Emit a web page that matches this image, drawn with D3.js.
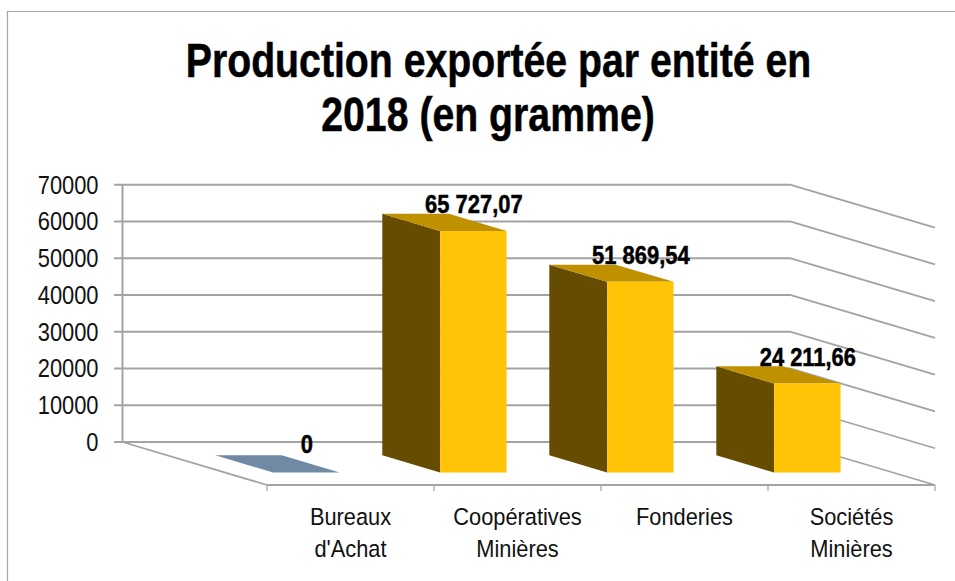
<!DOCTYPE html>
<html><head><meta charset="utf-8">
<script src="https://cdn.jsdelivr.net/npm/d3@7"></script>
<style>html,body{margin:0;padding:0;background:#fff}svg{display:block}text{font-family:"Liberation Sans",Arial,sans-serif}</style>
</head><body><svg id="c" width="955" height="581"></svg>
<script>
const categories=["Bureaux d'Achat","Coopératives Minières","Fonderies","Sociétés Minières"];
const categoryLines=[["Bureaux","d'Achat"],["Coopératives","Minières"],["Fonderies"],["Sociétés","Minières"]];
const values=[0,65727.07,51869.54,24211.66];
const valueLabels=["0","65 727,07","51 869,54","24 211,66"];
const yTicks=[0,10000,20000,30000,40000,50000,60000,70000];
const titleLines=["Production exportée par entité en","2018 (en gramme)"];
const titleCenters=[498.5,488];

const svg=d3.select("#c");
const grid="#a3a3a3";
const y=d3.scaleLinear().domain([0,70000]).range([442,184.7]);
const x=d3.scaleBand().domain(categories).range([267,935]);
const depthX=d3.scaleLinear().domain([0,1]).range([0,-144.5]);
const depthY=d3.scaleLinear().domain([0,1]).range([43,0]);
const h=v=>y(0)-y(v);
const P=(fx,d,v)=>[fx+depthX(d),y(0)+depthY(d)-h(v)];
const line=d3.line();
// horizontally condensed text, as in the reference
function label(s,px,py,size,sx,bold,fill){
  const t=svg.append("text").attr("transform",`translate(${px},${py}) scale(${sx},1)`)
    .attr("text-anchor","middle").attr("font-size",size)
    .attr("font-weight",bold?"bold":"normal").attr("fill",fill).text(s);
  if(bold) t.attr("stroke",fill).attr("stroke-width",0.5);
  return t;
}

svg.append("path").attr("d","M7.5,581V11.5H955").attr("fill","none").attr("stroke","#a6a6a6").attr("stroke-width",1.2);

yTicks.forEach(t=>{
  svg.append("path").attr("fill","none").attr("stroke",grid).attr("stroke-width",2)
   .attr("d",line([[114,y(t)],[790,y(t)]]));
  svg.append("path").attr("fill","none").attr("stroke",grid).attr("stroke-width",1.8)
   .attr("d",line([[790,y(t)],[935,y(t)+43]]));
});
svg.append("path").attr("stroke",grid).attr("stroke-width",2).attr("d",line([[122.5,y(70000)],[122.5,y(0)]]));
svg.append("path").attr("stroke",grid).attr("stroke-width",1.8).attr("d",line([[122.5,y(0)],[267,y(0)+43]]));
svg.append("path").attr("stroke",grid).attr("stroke-width",2).attr("d",line([[267,y(0)+43],[935,y(0)+43]]));
[...categories.map(c=>x(c)),935].forEach(px=>{
  svg.append("path").attr("stroke",grid).attr("stroke-width",1.2).attr("d",line([[px,485],[px,491]]));
});

yTicks.forEach(t=>{
  svg.append("text").attr("transform",`translate(98.5,${y(t)+9}) scale(0.875,1)`)
   .attr("text-anchor","end").attr("font-size",25).attr("fill","#111").text(t);
});

const d0=0.29,d1=0.69,barOff=48,barW=66.5;
categories.forEach((c,i)=>{
  const v=values[i],a=x(c)+barOff,b=a+barW;
  if(v===0){
    svg.append("path").attr("fill","#7089a5").attr("d",line([P(a,d0,0),P(b,d0,0),P(b,d1,0),P(a,d1,0)])+"Z");
    return;
  }
  svg.append("path").attr("fill","#664c00").attr("d",line([P(a,d1,0),P(a,d0,0),P(a,d0,v),P(a,d1,v)])+"Z");
  svg.append("path").attr("fill","#bf9000").attr("d",line([P(a,d0,v),P(b,d0,v),P(b,d1,v),P(a,d1,v)])+"Z");
  svg.append("path").attr("fill","#ffc406").attr("d",line([P(a,d0,0),P(b,d0,0),P(b,d0,v),P(a,d0,v)])+"Z");
});

categories.forEach((c,i)=>{
  const [cx]=P(x(c)+barOff+barW/2,d0,0);
  const top=P(0,d1,values[i])[1];
  label(valueLabels[i],cx+0.5,top-(values[i]===0?2:0.7),25.5,0.86,true,"#000");
});

categories.forEach((c,i)=>{
  const cx=x(c)+x.bandwidth()/2;
  categoryLines[i].forEach((s,k)=>label(s,cx,525+k*32,24.5,0.89,false,"#111"));
});

titleLines.forEach((s,k)=>label(s,titleCenters[k],77+k*54,47.5,0.826,true,"#000"));
</script></body></html>
